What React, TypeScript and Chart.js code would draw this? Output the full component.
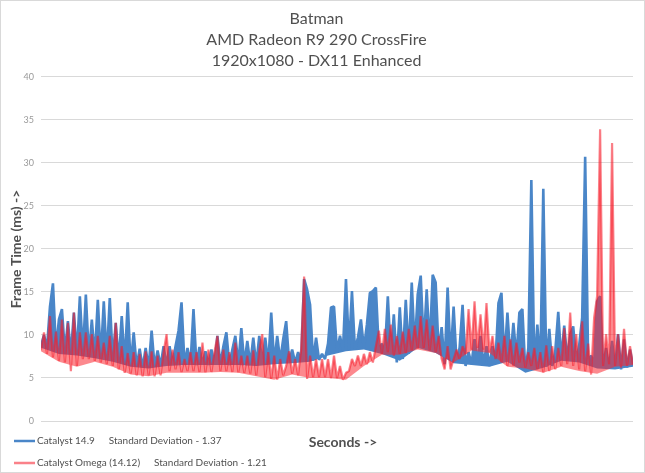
import { useEffect, useRef } from "react";
import { Chart, registerables } from "chart.js";

Chart.register(...registerables);

const titleLines = ["Batman", "AMD Radeon R9 290 CrossFire", "1920x1080 - DX11 Enhanced"];
const yAxisTitle = "Frame Time (ms) ->";
const xAxisTitle = "Seconds ->";
const seriesLabels = ["Catalyst 14.9", "Catalyst Omega (14.12)"];
const seriesNotes = ["Standard Deviation - 1.37", "Standard Deviation - 1.21"];
const yMin = 0;
const yMax = 40;
const yStep = 5;
const floorStep = 6; // floor readings are taken every 6 samples

// Frame times (ms), one sample per step across the run
const catalyst149 = [
  8.7, 10.0, 8.5, 13.3, 16.0, 8.3, 11.8, 13.0, 8.0, 11.6,
  7.8, 12.6, 7.8, 14.5, 7.8, 14.7, 7.6, 11.8, 7.4, 14.1,
  7.3, 13.9, 7.2, 14.3, 7.0, 11.4, 6.9, 12.2, 6.7, 13.8,
  6.4, 10.3, 6.3, 8.4, 6.2, 8.5, 6.2, 10.5, 6.3, 8.2,
  6.4, 8.7, 6.5, 8.7, 6.6, 8.7, 10.5, 13.8, 6.6, 8.5,
  6.6, 13.0, 6.5, 8.6, 6.6, 8.1, 6.5, 8.3, 6.6, 9.9,
  6.6, 8.7, 10.3, 6.5, 8.3, 9.9, 6.6, 10.8, 6.6, 9.3,
  6.6, 9.7, 6.5, 9.9, 6.6, 9.7, 6.6, 12.6, 6.7, 9.9,
  7.0, 9.5, 11.6, 6.8, 8.3, 6.8, 8.0, 6.9, 16.5, 15.3,
  13.5, 7.0, 9.7, 7.1, 7.8, 7.2, 9.0, 13.2, 13.3, 8.1,
  9.9, 8.2, 16.5, 8.3, 15.1, 8.3, 9.7, 11.8, 8.4, 11.2,
  14.9, 15.1, 15.5, 8.1, 9.0, 7.9, 14.5, 7.6, 12.4, 6.8,
  13.2, 7.2, 14.1, 7.8, 16.1, 8.5, 14.7, 16.9, 8.7, 15.3,
  8.5, 17.0, 16.1, 8.0, 10.9, 6.6, 15.5, 7.2, 13.3, 6.8,
  8.5, 13.5, 6.4, 8.0, 6.6, 9.5, 6.8, 9.9, 6.6, 8.7,
  6.4, 8.7, 7.0, 13.7, 14.9, 7.0, 12.6, 7.2, 11.4, 7.4,
  12.6, 13.0, 5.7, 8.5, 28.0, 6.0, 11.2, 6.4, 27.0, 6.3,
  10.7, 6.4, 8.1, 12.7, 7.2, 11.1, 7.2, 10.1, 11.0, 7.0,
  8.8, 12.0, 30.7, 6.8, 7.6, 6.6, 13.9, 14.5, 6.2, 8.5,
  6.2, 9.3, 6.1, 10.1, 6.0, 9.5, 6.2, 8.3, 6.4,
];

const catalystOmega = [
  8.3, 10.3, 7.8, 12.2, 7.4, 10.4, 7.0, 11.8, 6.8, 11.4,
  5.8, 12.6, 6.4, 10.3, 7.2, 10.3, 7.2, 10.1, 7.0, 9.9,
  6.8, 9.1, 6.6, 9.9, 6.4, 11.4, 6.0, 8.7, 5.6, 7.9,
  5.5, 8.0, 5.3, 7.8, 5.2, 8.1, 5.3, 8.1, 5.2, 7.6,
  5.3, 8.0, 10.1, 5.8, 8.3, 6.0, 8.0, 5.7, 7.2, 5.8,
  8.0, 5.8, 8.0, 5.7, 9.1, 5.65, 8.3, 5.7, 8.0, 9.9,
  5.8, 8.3, 5.8, 8.0, 5.7, 9.1, 5.65, 7.6, 5.6, 7.6,
  5.5, 8.2, 5.3, 8.2, 10.1, 5.1, 8.0, 4.9, 7.6, 4.8,
  7.2, 5.3, 6.4, 8.1, 5.5, 7.2, 5.3, 8.3, 16.8, 4.9,
  7.6, 5.1, 7.2, 5.1, 7.2, 5.1, 7.2, 5.0, 7.6, 5.0,
  6.4, 4.8, 5.6, 5.8, 7.2, 6.4, 7.6, 6.4, 7.8, 6.6,
  8.0, 6.8, 8.7, 10.5, 7.8, 10.7, 8.0, 11.2, 7.6, 9.9,
  7.8, 10.4, 7.9, 10.7, 8.2, 11.1, 8.4, 12.2, 8.5, 11.8,
  8.2, 11.1, 8.0, 9.9, 7.2, 6.0, 8.7, 6.0, 7.2, 8.3,
  7.2, 8.7, 7.8, 13.0, 8.3, 13.9, 8.5, 12.4, 8.3, 13.7,
  8.0, 9.9, 7.2, 9.1, 6.8, 9.9, 6.4, 9.5, 6.4, 9.1,
  6.8, 8.5, 6.2, 8.0, 6.4, 8.5, 6.0, 8.0, 5.65, 8.8,
  5.8, 8.7, 6.0, 8.5, 6.4, 10.8, 6.6, 12.6, 6.4, 10.1,
  6.0, 11.6, 5.8, 9.0, 5.4, 12.0, 14.5, 33.9, 6.4, 10.1,
  6.6, 32.3, 6.4, 10.1, 6.2, 10.7, 6.4, 8.7, 6.6,
];

// Lowest frame time read every 6 samples (the bottom edge of each band)
const catalyst149Floor = [
  8.5, 7.8, 7.6, 7.3, 6.9, 6.3, 6.1, 6.4, 6.5, 6.5,
  6.5, 6.5, 6.4, 6.6, 6.7, 6.9, 7.6, 8.1, 8.3, 7.8,
  7.0, 8.5, 7.9, 6.7, 6.5, 6.3, 6.9, 5.6, 6.2, 7.0,
  6.8, 6.1, 6.0, 6.3,
];

const catalystOmegaFloor = [
  8.1, 6.9, 6.3, 6.9, 6.3, 5.4, 5.2, 5.6, 5.6, 5.6,
  5.7, 5.6, 5.2, 4.8, 5.4, 5.0, 5.0, 4.8, 6.4, 7.7,
  7.7, 8.3, 7.9, 6.8, 8.2, 7.9, 6.3, 6.1, 5.6, 6.3,
  5.8, 5.5, 6.3, 6.5,
];

const BLUE = "#4a86c8";
const RED = "rgba(245, 25, 40, 0.55)";
const RED_FILL = "rgba(250, 40, 50, 0.55)";
const TEXT = "#505050";
const FONT = "Lato, 'Open Sans', sans-serif";

export default function App() {
  const ref = useRef<HTMLCanvasElement | null>(null);

  useEffect(() => {
    if (!ref.current) return;
    const colors = [BLUE, RED];
    const toPoints = (arr: number[], step: number) => arr.map((y, i) => ({ x: i * step, y }));

    const decor = {
      id: "decor",
      beforeDraw(chart: any) {
        const { ctx, width, height } = chart;
        ctx.save();
        ctx.fillStyle = "#ffffff";
        ctx.fillRect(0, 0, width, height);
        ctx.restore();
      },
      afterDraw(chart: any) {
        const { ctx, width, height, chartArea } = chart;
        ctx.save();
        ctx.strokeStyle = "#d9d9d9";
        ctx.lineWidth = 1;
        ctx.strokeRect(0.5, 0.5, width - 1, height - 1);
        ctx.textBaseline = "middle";
        ctx.textAlign = "left";
        ctx.font = `10px ${FONT}`;
        seriesLabels.forEach((label, i) => {
          const y = chartArea.bottom + 20 + i * 22;
          ctx.strokeStyle = colors[i];
          ctx.lineWidth = 2.5;
          ctx.beginPath();
          ctx.moveTo(14, y);
          ctx.lineTo(35, y);
          ctx.stroke();
          ctx.fillStyle = TEXT;
          ctx.fillText(label, 37, y);
          const w = ctx.measureText(label).width;
          ctx.fillText(seriesNotes[i], 37 + w + 14, y);
        });
        ctx.font = `bold 14px ${FONT}`;
        ctx.textAlign = "center";
        ctx.fillStyle = TEXT;
        ctx.fillText(xAxisTitle, 343, chartArea.bottom + 21);
        ctx.restore();
      },
    };

    const chart = new Chart(ref.current, {
      type: "line",
      data: {
        datasets: [
          {
            label: seriesLabels[0],
            data: toPoints(catalyst149, 1),
            borderColor: BLUE,
            backgroundColor: BLUE,
            borderWidth: 2.6,
            borderJoinStyle: "bevel",
            pointRadius: 0,
            tension: 0,
            fill: 2,
            order: 1,
          },
          {
            label: seriesLabels[1],
            data: toPoints(catalystOmega, 1),
            borderColor: RED,
            backgroundColor: RED_FILL,
            borderWidth: 2.2,
            borderJoinStyle: "bevel",
            pointRadius: 0,
            tension: 0,
            fill: 3,
            order: 0,
          },
          {
            label: seriesLabels[0] + " floor",
            data: toPoints(catalyst149Floor, floorStep),
            borderWidth: 0,
            borderColor: "rgba(0,0,0,0)",
            pointRadius: 0,
            fill: false,
            order: 3,
          },
          {
            label: seriesLabels[1] + " floor",
            data: toPoints(catalystOmegaFloor, floorStep),
            borderWidth: 0,
            borderColor: "rgba(0,0,0,0)",
            pointRadius: 0,
            fill: false,
            order: 2,
          },
        ],
      },
      options: {
        responsive: false,
        animation: false,
        layout: { padding: { left: 0, right: 12, top: 0, bottom: 52 } },
        plugins: {
          legend: { display: false },
          tooltip: { enabled: false },
          title: {
            display: true,
            text: titleLines,
            color: TEXT,
            font: { family: FONT, size: 16, weight: "normal", lineHeight: 1.31 },
            padding: { top: 8, bottom: 6 },
          },
        },
        scales: {
          x: { type: "linear", display: false, min: 0, max: catalyst149.length - 1, offset: false },
          y: {
            min: yMin,
            max: yMax,
            ticks: {
              stepSize: yStep,
              color: "#9a9a9a",
              font: { family: FONT, size: 9 },
              padding: 7,
            },
            grid: { color: "#d9d9d9", drawTicks: false, lineWidth: 1 },
            border: { display: false },
            title: {
              display: true,
              text: yAxisTitle,
              color: TEXT,
              font: { family: FONT, size: 14, weight: "bold" },
              padding: { top: 8, bottom: 0 },
            },
            afterFit: (scale: any) => {
              scale.width = 41;
            },
          },
        },
      },
      plugins: [decor],
    } as any);

    return () => chart.destroy();
  }, []);

  return (
    <div style={{ position: "fixed", left: 0, top: 0, width: 645, height: 473, background: "#fff" }}>
      <canvas ref={ref} width={645} height={473} style={{ display: "block" }} />
    </div>
  );
}
